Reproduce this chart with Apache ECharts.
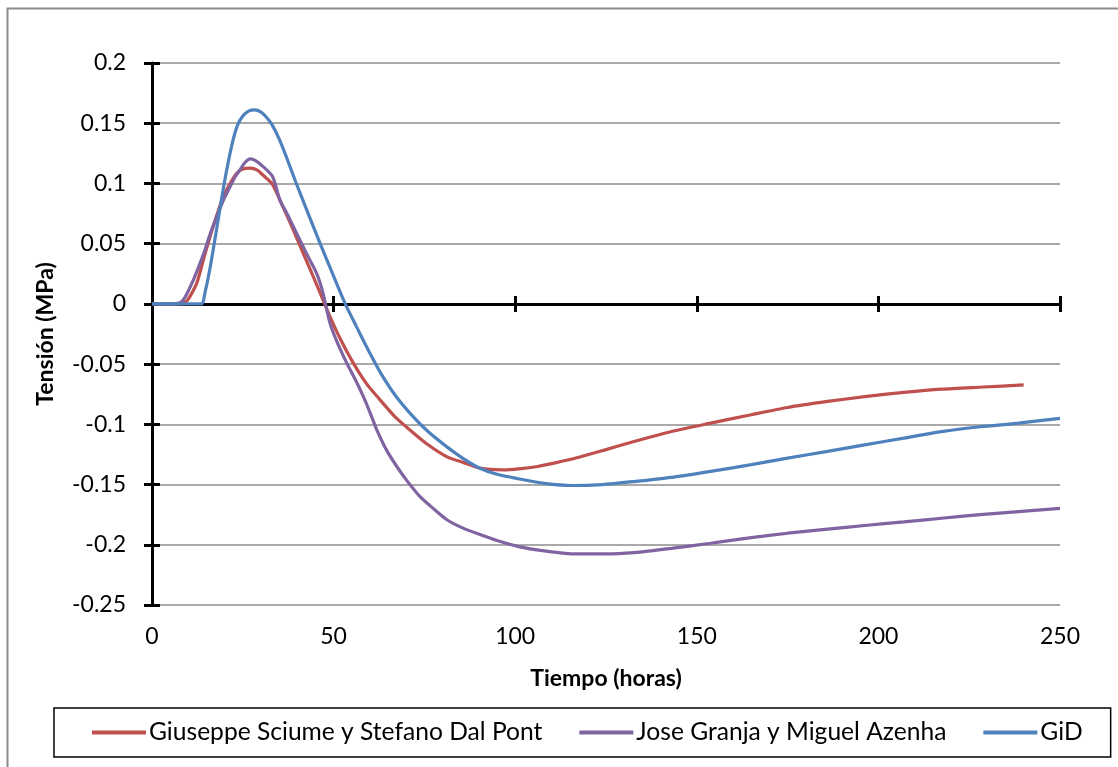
<!DOCTYPE html>
<html>
<head>
<meta charset="utf-8">
<script src="https://cdn.jsdelivr.net/npm/echarts@6/dist/echarts.min.js"></script>
<style>
  html, body { margin: 0; padding: 0; background: #fff; }
  #chart { width: 1118px; height: 767px; }
</style>
</head>
<body>
<div id="chart"></div>
<script>
// Tensión (MPa) vs Tiempo (horas) for three models
const seriesNames = ['Giuseppe Sciume y Stefano Dal Pont', 'Jose Granja y Miguel Azenha', 'GiD'];

const sciumeTime = [0, 5, 8, 9, 10, 12.3, 14, 16, 18, 19.6, 21.5, 23.3, 25, 27, 29, 30.5, 33, 36, 38.9, 41.5, 44.4, 47, 49, 52, 55.4, 59, 62.8, 67, 71.9, 76, 81.1, 86, 90.3, 96.6, 101, 106.2, 111, 116.7, 125, 132.7, 143, 153.8, 165, 175, 186, 196.2, 207, 217.4, 229, 240];
const sciumeStress = [0, 0, 0, 0.001, 0.004, 0.017, 0.035, 0.056, 0.075, 0.089, 0.1, 0.1085, 0.112, 0.1127, 0.111, 0.107, 0.1, 0.081, 0.0614, 0.043, 0.0227, 0.004, -0.0105, -0.03, -0.049, -0.066, -0.0797, -0.094, -0.107, -0.117, -0.1268, -0.132, -0.1364, -0.1378, -0.137, -0.135, -0.132, -0.128, -0.121, -0.1143, -0.106, -0.099, -0.092, -0.086, -0.081, -0.077, -0.0735, -0.0708, -0.069, -0.0673];

const granjaTime = [0, 5, 7.7, 9, 11.4, 13, 14.6, 16, 17.8, 19.5, 21.5, 23, 24.2, 25.5, 27, 28.5, 30.6, 33.2, 35.2, 37.5, 39.8, 42.5, 45.3, 47, 49, 51, 53.6, 56, 58.2, 60, 61.9, 64.5, 67.4, 70.5, 73.8, 77.5, 81.1, 85.5, 90.3, 95, 100.9, 108, 116.7, 125, 132.7, 143, 153.8, 165, 175, 186, 196.2, 207, 217.4, 228, 238.6, 250];
const granjaStress = [0, 0, 0.001, 0.005, 0.02, 0.032, 0.045, 0.058, 0.0725, 0.085, 0.0974, 0.106, 0.111, 0.117, 0.1204, 0.119, 0.114, 0.1057, 0.0864, 0.073, 0.0587, 0.042, 0.0255, 0.01, -0.016, -0.032, -0.049, -0.063, -0.077, -0.09, -0.1046, -0.121, -0.135, -0.148, -0.16, -0.17, -0.179, -0.186, -0.1915, -0.1965, -0.2015, -0.205, -0.2076, -0.2076, -0.2065, -0.203, -0.1987, -0.194, -0.1904, -0.187, -0.184, -0.181, -0.178, -0.175, -0.1724, -0.1697];

const gidTime = [0, 10, 13.7, 14.5, 16, 18, 20, 22, 23.5, 25, 26.7, 28.3, 30, 31.5, 33, 35, 37, 39.6, 43, 46.3, 50, 53.2, 55.5, 57.3, 60, 62.8, 67, 71.9, 76, 81.1, 85.5, 90.3, 95, 100.9, 108, 115.7, 124, 132.7, 143, 153.8, 165, 175, 186, 196.2, 207, 217.4, 228, 238.6, 250];
const gidStress = [0, 0, 0, 0.008, 0.03, 0.066, 0.102, 0.132, 0.148, 0.156, 0.1603, 0.161, 0.1592, 0.155, 0.149, 0.137, 0.122, 0.101, 0.075, 0.05, 0.023, 0, -0.014, -0.025, -0.041, -0.0566, -0.076, -0.0936, -0.106, -0.1185, -0.128, -0.1365, -0.1415, -0.1452, -0.149, -0.1508, -0.15, -0.1475, -0.144, -0.139, -0.1335, -0.128, -0.1225, -0.117, -0.1115, -0.106, -0.102, -0.099, -0.095];

const xTicks = { min: 0, max: 250, interval: 50 };
const yTicks = { min: -0.25, max: 0.2, interval: 0.05 };

const colors = ['#C0504D', '#8064A2', '#4F81BD'];
const font = 'Lato, "Open Sans", sans-serif';

function pairs(xs, ys) {
  return xs.map((x, i) => [x, ys[i]]);
}

const chart = echarts.init(document.getElementById('chart'), null, { renderer: 'canvas' });

const tickStyle = { color: '#000', width: 3 };

chart.setOption({
  animation: false,
  backgroundColor: '#fff',
  textStyle: { fontFamily: font },
  graphic: [{
    type: 'rect',
    shape: { x: 7.5, y: 8.5, width: 1300, height: 1000 },
    style: { fill: 'none', stroke: '#8a8a8a', lineWidth: 2 },
    silent: true
  }],
  grid: { left: 152, right: 58, top: 63, bottom: 162, containLabel: false, outerBoundsMode: 'none' },
  legend: {
    data: seriesNames,
    left: 54,
    top: 708,
    padding: [12, 28, 12, 38],
    borderColor: '#000',
    borderWidth: 1.5,
    icon: 'rect',
    itemWidth: 54,
    itemHeight: 4,
    itemGap: 37,
    textStyle: { fontFamily: font, fontSize: 24.6, color: '#000', padding: [0, 0, 0, -2] }
  },
  xAxis: [{
    type: 'value',
    min: xTicks.min, max: xTicks.max, interval: xTicks.interval,
    position: 'bottom',
    axisLine: { show: true, onZero: true, lineStyle: { color: '#000', width: 3 } },
    axisTick: { show: true, inside: false, length: 8, lineStyle: tickStyle },
    axisLabel: { margin: 20, fontFamily: font, fontSize: 23, color: '#000' },
    splitLine: { show: false },
    name: 'Tiempo (horas)',
    nameLocation: 'middle',
    nameGap: 62,
    nameTextStyle: { fontFamily: font, fontSize: 23, fontWeight: 'bold', color: '#000' }
  }, {
    type: 'value',
    min: xTicks.min, max: xTicks.max, interval: xTicks.interval,
    position: 'top',
    axisLine: { show: true, onZero: true, lineStyle: { color: '#000', width: 3 } },
    axisTick: { show: true, inside: false, length: 8, lineStyle: tickStyle },
    axisLabel: { show: false },
    splitLine: { show: false }
  }],
  yAxis: [{
    type: 'value',
    min: yTicks.min, max: yTicks.max, interval: yTicks.interval,
    position: 'left',
    axisLine: { show: true, onZero: false, lineStyle: { color: '#000', width: 3 } },
    axisTick: { show: true, inside: false, length: 8, lineStyle: tickStyle },
    axisLabel: { margin: 26, fontFamily: font, fontSize: 23, color: '#000' },
    splitLine: { show: true, lineStyle: { color: '#8c8c8c', width: 1.5 } },
    name: 'Tensión (MPa)',
    nameLocation: 'middle',
    nameGap: 95,
    nameRotate: 90,
    nameTextStyle: { fontFamily: font, fontSize: 23, fontWeight: 'bold', color: '#000' }
  }, {
    type: 'value',
    min: yTicks.min, max: yTicks.max, interval: yTicks.interval,
    position: 'right',
    offset: -908,
    axisLine: { show: false, onZero: false },
    axisTick: { show: true, inside: false, length: 8, lineStyle: tickStyle },
    axisLabel: { show: false },
    splitLine: { show: false }
  }],
  series: [
    { name: seriesNames[0], data: pairs(sciumeTime, sciumeStress), color: colors[0] },
    { name: seriesNames[1], data: pairs(granjaTime, granjaStress), color: colors[1] },
    { name: seriesNames[2], data: pairs(gidTime, gidStress), color: colors[2] }
  ].map(s => ({
    type: 'line',
    name: s.name,
    data: s.data,
    xAxisIndex: 0,
    yAxisIndex: 0,
    showSymbol: false,
    smooth: 0.25,
    z: 3,
    itemStyle: { color: s.color },
    lineStyle: { color: s.color, width: 3.2 }
  }))
});
</script>
</body>
</html>
